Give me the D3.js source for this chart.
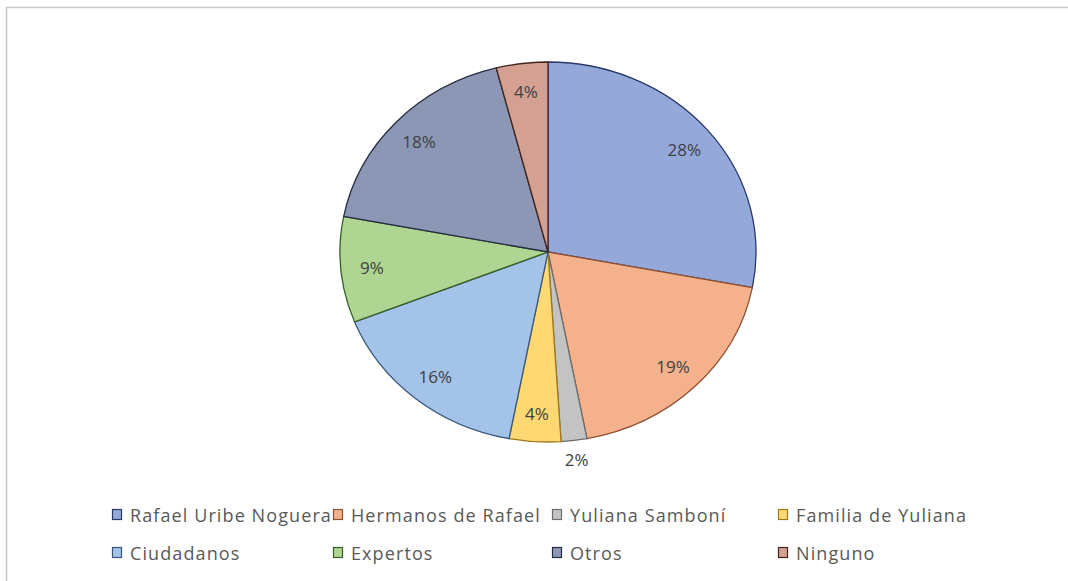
<!DOCTYPE html>
<html>
<head>
<meta charset="utf-8">
<script src="https://cdn.jsdelivr.net/npm/d3@7"></script>
<style>
  body { margin: 0; background: #fff; }
  svg { display: block; }
</style>
</head>
<body>
<div id="chart"></div>
<script>
// Chart data
var categories = ["Rafael Uribe Noguera", "Hermanos de Rafael", "Yuliana Samboní", "Familia de Yuliana",
                  "Ciudadanos", "Expertos", "Otros", "Ninguno"];
var values = [28, 19, 2, 4, 16, 9, 18, 4];
var colors = ["#94a8da", "#f5b08c", "#c3c3c3", "#fed872", "#a3c3e8", "#aed592", "#8b97b4", "#d4a092"];
var strokes = ["#2a3866", "#8f5134", "#6e6e6e", "#a07a18", "#38577f", "#385f27", "#262c40", "#42241d"];

var width = 1068;
var height = 581;

// pie is slightly wider than tall
var cx = 548, cy = 252;
var ry = 190, rx = 208;

var svg = d3.select("#chart")
    .append("svg")
    .attr("width", width)
    .attr("height", height);

// frame of the chart area (top and left only visible)
svg.append("line").attr("x1", 6).attr("x2", width).attr("y1", 7.5).attr("y2", 7.5)
    .attr("stroke", "#c8c8c8").attr("stroke-width", 1.5);
svg.append("line").attr("x1", 6.5).attr("x2", 6.5).attr("y1", 7).attr("y2", height)
    .attr("stroke", "#c8c8c8").attr("stroke-width", 1.5);

var pie = d3.pie().sort(null).value(function (d) { return d; });
var arcs = pie(values);

var arc = d3.arc().innerRadius(0).outerRadius(ry);

var g = svg.append("g")
    .attr("transform", "translate(" + cx + "," + cy + ") scale(" + (rx / ry) + ",1)");

g.selectAll("path")
    .data(arcs)
    .enter()
    .append("path")
    .attr("d", arc)
    .attr("fill", function (d, i) { return colors[i]; })
    .attr("stroke", function (d, i) { return strokes[i]; })
    .attr("stroke-width", 1.3)
    .attr("vector-effect", "non-scaling-stroke");

// percent labels
var labelArc = d3.arc().innerRadius(ry * 0.85).outerRadius(ry * 0.85);
var outerArc = d3.arc().innerRadius(ry * 1.1).outerRadius(ry * 1.1);

svg.selectAll("text.pct")
    .data(arcs)
    .enter()
    .append("text")
    .attr("class", "pct")
    .attr("x", function (d) {
        var c = (d.data < 3 ? outerArc : labelArc).centroid(d);
        return cx + c[0] * rx / ry;
    })
    .attr("y", function (d) {
        var c = (d.data < 3 ? outerArc : labelArc).centroid(d);
        return cy + c[1];
    })
    .attr("text-anchor", "middle")
    .attr("dominant-baseline", "central")
    .attr("font-family", "Open Sans, Liberation Sans, sans-serif")
    .attr("font-size", 17)
    .attr("fill", "#404040")
    .text(function (d) { return d.data + "%"; });

// legend
var legendX = [112, 333, 552, 778];
var legendY = [515, 553];

var legend = svg.selectAll("g.leg")
    .data(categories)
    .enter()
    .append("g")
    .attr("class", "leg")
    .attr("transform", function (d, i) {
        return "translate(" + legendX[i % 4] + "," + legendY[Math.floor(i / 4)] + ")";
    });

legend.append("rect")
    .attr("x", 0.5).attr("y", -5.5)
    .attr("width", 9).attr("height", 10)
    .attr("fill", function (d, i) { return colors[i]; })
    .attr("stroke", function (d, i) { return strokes[i]; })
    .attr("stroke-width", 1.2);

legend.append("text")
    .attr("x", 18)
    .attr("y", 0)
    .attr("dominant-baseline", "central")
    .attr("font-family", "Open Sans, Liberation Sans, sans-serif")
    .attr("font-size", 18)
    .attr("letter-spacing", 1.1)
    .attr("fill", "#595959")
    .text(function (d) { return d; });
</script>
</body>
</html>
